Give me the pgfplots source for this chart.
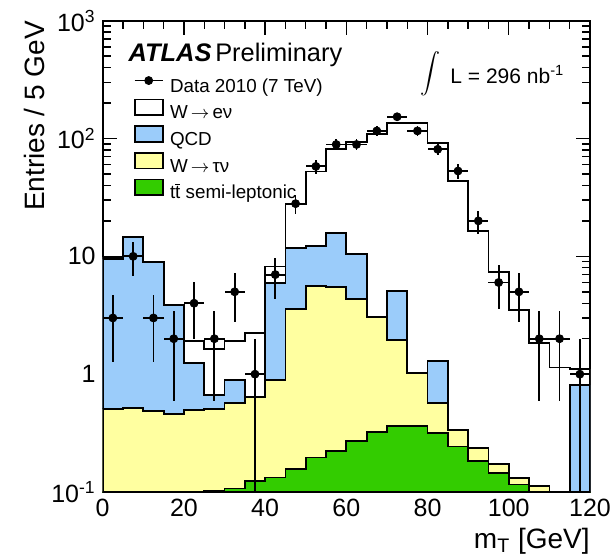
\documentclass[border=0pt]{standalone}
\usepackage{fontspec}
\setmainfont{Liberation Sans}
\setsansfont{Liberation Sans}
\usepackage{pgfplots}
\usepackage{pgfplotstable}
\pgfplotsset{compat=1.18}
\definecolor{qcdblue}{RGB}{155,204,250}
\definecolor{tauyellow}{RGB}{255,255,160}
\definecolor{ttgreen}{RGB}{51,204,0}

\pgfplotstableread{
x total
0 9.8
5 14.7
10 9.0
15 3.87
20 1.92
25 1.63
30 1.92
35 2.22
40 8.2
45 27.9
50 52.4
55 81
60 94
65 109
70 136
75 136
80 91
85 43.6
90 16.5
95 7.4
100 3.5
105 1.83
110 1.14
115 1.11
120 1.11
}\totaltab

\pgfplotstableread{
x qcd
0 9.45
5 14.7
10 9.0
15 3.87
20 1.24
25 0.666
30 0.89
35 0.636
40 5.9
45 11.7
50 12.3
55 15.7
60 10.5
65 3.04
70 5.1
75 1.03
80 1.30
85 0.336
90 0.235
95 0.174
100 0.132
105 0.112
110 0.01
115 0.81
120 0.81
}\qcdtab

\pgfplotstableread{
x tau
0 0.504
5 0.517
10 0.49
15 0.457
20 0.497
25 0.504
30 0.573
35 0.636
40 0.89
45 3.56
50 5.6
55 5.47
60 4.35
65 3.04
70 1.95
75 1.03
80 0.566
85 0.336
90 0.235
95 0.174
100 0.132
105 0.112
110 0.01
115 0.01
120 0.01
}\tautab

\pgfplotstableread{
x tt
0 0.01
5 0.01
10 0.01
15 0.01
20 0.01
25 0.102
30 0.107
35 0.124
40 0.133
45 0.157
50 0.196
55 0.224
60 0.273
65 0.325
70 0.366
75 0.362
80 0.319
85 0.243
90 0.183
95 0.146
100 0.116
105 0.01
110 0.01
115 0.01
120 0.01
}\tttab

\pgfplotstableread{
x y ep em
2.5 3 1.73 1.73
7.5 10 3.16 3.16
12.5 3 1.73 1.73
17.5 2 1.41 1.41
22.5 4 2 2
27.5 2 1.41 1.41
32.5 5 2.24 2.24
37.5 1 1 0.999
42.5 7 2.65 2.65
47.5 28 5.29 5.29
52.5 58 7.62 7.62
57.5 89 9.43 9.43
62.5 89 9.43 9.43
67.5 116 10.77 10.77
72.5 153 12.37 12.37
77.5 116 10.77 10.77
82.5 81 9 9
87.5 53 7.28 7.28
92.5 20 4.47 4.47
97.5 6 2.45 2.45
102.5 5 2.24 2.24
107.5 2 1.41 1.41
112.5 2 1.41 1.41
117.5 1 1 0.999
}\datatab

\begin{document}
\begin{tikzpicture}
\begin{axis}[
  name=ax,
  scale only axis,
  width=243.65pt, height=235.65pt,
  ymode=log, log origin=infty,
  xmin=0, xmax=120, ymin=0.1, ymax=1000,
  xtick={0,20,40,60,80,100,120},
  minor x tick num=3,
  ytick={0.1,1,10,100,1000},
  yticklabels={10\textsuperscript{-1},1,10,10\textsuperscript{2},10\textsuperscript{3}},
  tick align=inside,
  major tick length=7pt, minor tick length=4pt,
  every tick/.style={black, line width=0.7pt},
  axis line style={line width=0.9pt},
  tick label style={font=\fontsize{12.5}{14}\selectfont},
  /pgf/number format/assume math mode=true,
  xlabel={m\textsubscript{T} [GeV]},
  ylabel={Entries / 5 GeV},
  label style={font=\fontsize{14}{16}\selectfont},
  xlabel style={at={(rel axis cs:1,0)}, anchor=base east, yshift=-28pt, inner sep=0pt},
  ylabel style={at={(rel axis cs:-0.119,1)}, anchor=base east, inner sep=0pt},
  legend style={at={(rel axis cs:0.063,0.884)}, anchor=north west, draw=none, fill=none,
    inner sep=0pt, font=\fontsize{9.4}{11}\selectfont, row sep=0pt,
    nodes={inner sep=1pt, text height=7.2pt, text depth=2.2pt}},
  legend cell align=left,
  /tikz/every odd column/.append style={column sep=2.2pt},
]
\addlegendimage{legend image code/.code={\draw[black, line width=0.9pt] (0pt,3.3pt) -- (14pt,3.3pt); \fill[black] (7pt,3.3pt) circle (2pt);}}
\addlegendentry{Data 2010 (7 TeV)}
\addlegendimage{legend image code/.code={\draw[black, fill=white, line width=0.9pt] (0pt,-0.6pt) rectangle (14pt,7.2pt);}}
\addlegendentry{W\,$\rightarrow$\,eν}
\addlegendimage{legend image code/.code={\draw[black, fill=qcdblue, line width=0.9pt] (0pt,-0.6pt) rectangle (14pt,7.2pt);}}
\addlegendentry{QCD}
\addlegendimage{legend image code/.code={\draw[black, fill=tauyellow, line width=0.9pt] (0pt,-0.6pt) rectangle (14pt,7.2pt);}}
\addlegendentry{W\,$\rightarrow$\,τν}
\addlegendimage{legend image code/.code={\draw[black, fill=ttgreen, line width=0.9pt] (0pt,-0.6pt) rectangle (14pt,7.2pt);}}
\addlegendentry{t$\overline{\mbox{t}}$ semi-leptonic}

\addplot[const plot mark left, draw=black, fill=white, line width=0.9pt, forget plot] table[x=x, y=total] {\totaltab} \closedcycle;
\addplot[const plot mark left, draw=black, fill=qcdblue, line width=0.9pt, forget plot] table[x=x, y=qcd] {\qcdtab} \closedcycle;
\addplot[const plot mark left, draw=black, fill=tauyellow, line width=0.9pt, forget plot] table[x=x, y=tau] {\tautab} \closedcycle;
\addplot[const plot mark left, draw=black, fill=ttgreen, line width=0.9pt, forget plot] table[x=x, y=tt] {\tttab} \closedcycle;

\addplot[only marks, mark=*, mark size=2pt, black, forget plot,
  error bars/.cd, y dir=both, y explicit, x dir=both, x fixed=2.5,
  error mark=none, error bar style={line width=0.9pt, black}]
  table[x=x, y=y, y error plus=ep, y error minus=em] {\datatab};

\node[anchor=base west, inner sep=0pt, font=\fontsize{12.7}{14}\selectfont] at (rel axis cs:0.0525,0.913) {{\bfseries\itshape ATLAS}\hspace{0.15em}Preliminary};
\node[anchor=center, inner sep=0pt, font=\fontsize{17}{19}\selectfont] at (rel axis cs:0.672,0.887) {$\displaystyle\int$};
\node[anchor=base west, inner sep=0pt, font=\fontsize{10.5}{12}\selectfont] at (rel axis cs:0.7127,0.867) {L = 296 nb\textsuperscript{-1}};
\end{axis}
\pgfresetboundingbox
\path ([shift={(-51.35pt,-32.5pt)}]ax.south west) rectangle ([shift={(12pt,10.35pt)}]ax.north east);
\end{tikzpicture}
\end{document}
